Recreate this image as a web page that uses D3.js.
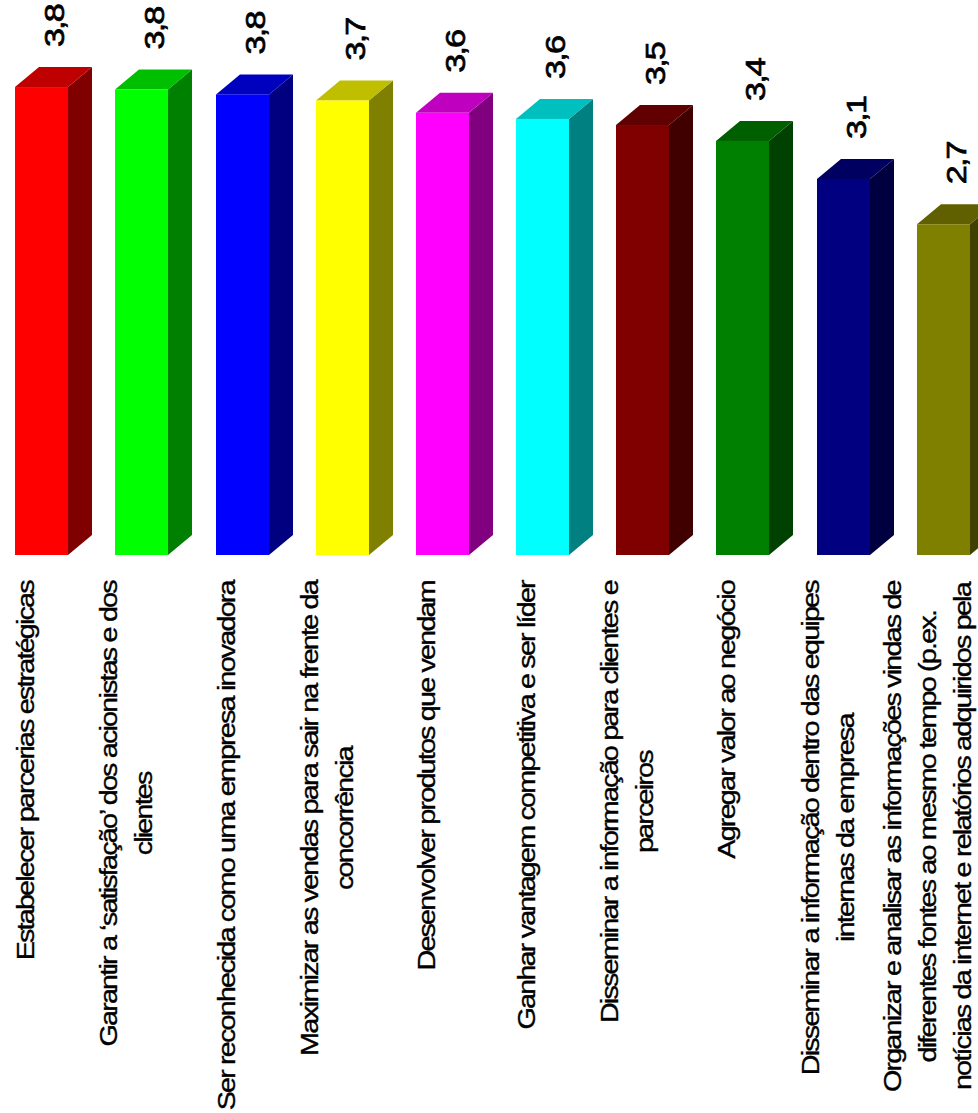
<!DOCTYPE html>
<html>
<head>
<meta charset="utf-8">
<script src="https://cdn.jsdelivr.net/npm/d3@7"></script>
<style>
  html, body { margin: 0; padding: 0; background: #fff; overflow: hidden; }
  svg { display: block; }
  text { fill: #000; font-family: "Liberation Sans", Arial, sans-serif; }
</style>
</head>
<body>
<svg id="chart" width="978" height="1113"></svg>
<script>
// Survey means, one per objective, in descending order
const categories = [
  ["Estabelecer parcerias estratégicas"],
  ["Garantir a ‘satisfação’ dos acionistas e dos", "clientes"],
  ["Ser reconhecida como uma empresa inovadora"],
  ["Maximizar as vendas para sair na frente da", "concorrência"],
  ["Desenvolver produtos que vendam"],
  ["Ganhar vantagem competitiva e ser líder"],
  ["Disseminar a informação para clientes e", "parceiros"],
  ["Agregar valor ao negócio"],
  ["Disseminar a informação dentro das equipes", "internas da empresa"],
  ["Organizar e analisar as informações vindas de", "diferentes fontes ao mesmo tempo (p.ex.", "notícias da internet e relatórios adquiridos pela"]
];
const values = [3.82, 3.80, 3.76, 3.71, 3.61, 3.56, 3.51, 3.38, 3.07, 2.70];
const colors = ["#ff0000", "#00ff00", "#0000ff", "#ffff00", "#ff00ff", "#00ffff", "#800000", "#008000", "#000080", "#808000"];

const svg = d3.select("#chart");
const barWidth = 53, depthX = 24, depthY = 20, lineGap = 35;
const baseY = 555;

const point = d3.scalePoint().domain(d3.range(values.length)).range([15.13, 916.84]);
const x = i => Math.round(point(i));
const y = d3.scaleLinear().domain([0, 4]).range([baseY, baseY - 490]);
const shade = (c, k) => { const r = d3.rgb(c); return d3.rgb(r.r * k, r.g * k, r.b * k).formatHex(); };
const decimal = d => d.toFixed(1).replace(".", ",");

const bars = svg.selectAll("g.bar").data(values).join("g").attr("class", "bar");

// Side face, then top face, then front face of each extruded column
bars.append("path")
  .attr("fill", (d, i) => shade(colors[i], 0.5))
  .attr("d", (d, i) => {
    const r = x(i) + barWidth, t = y(d);
    return `M${r},${t}L${r + depthX},${t - depthY}L${r + depthX},${baseY - depthY}L${r},${baseY}Z`;
  });
bars.append("path")
  .attr("fill", (d, i) => shade(colors[i], 0.75))
  .attr("d", (d, i) => {
    const l = x(i), t = y(d);
    return `M${l},${t}L${l + depthX},${t - depthY}L${l + barWidth + depthX},${t - depthY}L${l + barWidth},${t}Z`;
  });
bars.append("rect")
  .attr("x", (d, i) => x(i))
  .attr("y", d => y(d))
  .attr("width", barWidth)
  .attr("height", d => baseY - y(d))
  .attr("fill", (d, i) => colors[i]);

// Value labels, turned to read upward above each column
svg.selectAll("text.value").data(values).join("text")
  .attr("class", "value")
  .attr("transform", (d, i) => `translate(${x(i) + 49},${y(d) - depthY - 20}) rotate(-90) scale(1.22,1)`)
  .attr("font-size", 28)
  .attr("letter-spacing", -1.5)
  .attr("stroke", "#000")
  .attr("stroke-width", 0.7)
  .text(decimal);

// Category labels: wrapped lines centred on each other, longest line ending under the bar
const labelSize = 23, labelStretch = 1.25, labelSpacing = -1.45, labelTop = 581;
const group = svg.selectAll("g.label").data(categories).join("g").attr("class", "label");
group.each(function (lines, i) {
  const g = d3.select(this);
  const texts = g.selectAll("text").data(lines).join("text")
    .attr("font-size", labelSize)
    .attr("letter-spacing", labelSpacing)
    .attr("text-anchor", "middle")
    .attr("stroke", "#000")
    .attr("stroke-width", 0.35)
    .text(d => d);
  const longest = d3.max(texts.nodes(), n => n.getComputedTextLength()) * labelStretch;
  const cy = labelTop + longest / 2;
  texts.attr("transform", (d, k) => {
    const cx = x(i) + 19 + (k - (lines.length - 1) / 2) * lineGap;
    return `translate(${cx},${cy}) rotate(-90) scale(${labelStretch},1)`;
  });
});
</script>
</body>
</html>
